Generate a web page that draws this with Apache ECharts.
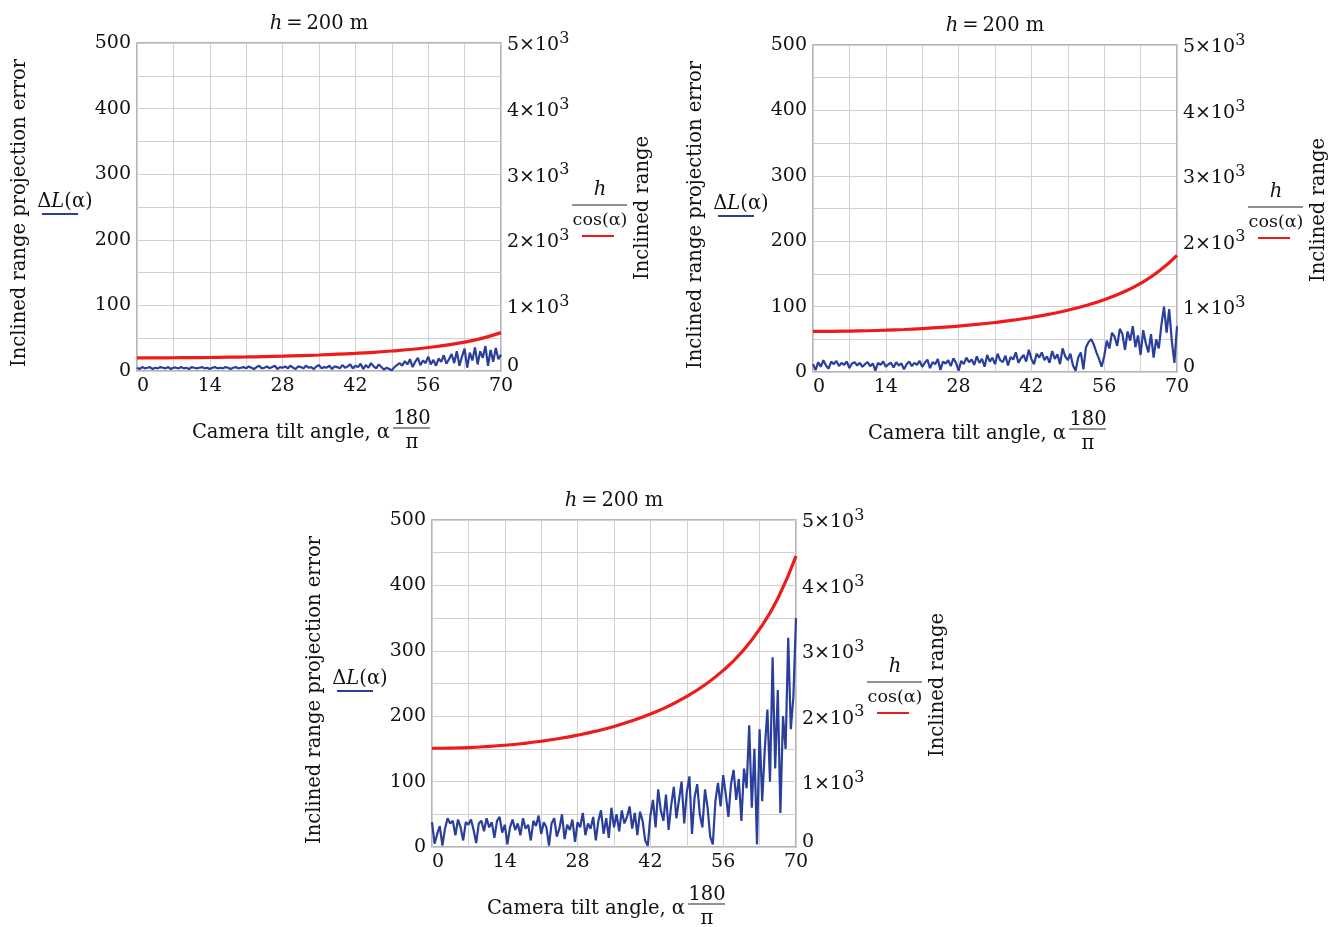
<!DOCTYPE html>
<html><head><meta charset="utf-8">
<script src="https://cdn.jsdelivr.net/npm/echarts@6/dist/echarts.min.js"></script>
<style>html,body{margin:0;padding:0;background:#fff}#c{width:1329px;height:927px}</style>
</head><body><div id="c"></div>
<script>
// ---- data ----
const titles = ['h = 200 m', 'h = 200 m', 'h = 200 m'];
const xTickStep = 14;            // labelled ticks 0,14,...,70
const leftMax = 500, rightMax = 5000;
// red curve h/cos(alpha), right axis units, sampled every 3.5 deg
const redAngles = [0,3.5,7,10.5,14,17.5,21,24.5,28,31.5,35,38.5,42,45.5,49,52.5,56,59.5,63,66.5,70];
const red1 = [200,200,202,203,206,210,214,220,226,235,244,256,269,285,305,328,358,394,440,501,585];
const red2 = [620,621,625,631,639,650,664,681,702,727,757,792,834,884,945,1018,1105,1215,1355,1540,1785];
const red3 = [1510,1513,1521,1536,1556,1583,1617,1659,1710,1771,1843,1930,2032,2154,2302,2480,2700,2975,3330,3800,4450];
// blue curve ΔL(alpha), left axis units, sampled every 0.5 deg from 0 to 70
const blueStep = 0.5;
const blue1 = [5,3,6,4,5,6,3,5,4,6,5,4,6,3,5,5,4,6,4,5,3,6,5,4,5,6,4,5,3,5,6,4,5,4,6,5,3,5,6,4,5,
  6,4,7,5,3,6,8,4,5,7,4,6,8,3,6,5,7,4,8,5,3,7,6,4,8,5,6,3,7,9,4,6,5,8,3,7,6,4,9,5,
  7,10,4,8,6,11,3,9,5,12,7,4,10,6,2,5,3,1,6,9,
  12,8,15,10,18,6,14,20,9,16,12,22,10,17,8,19,14,24,11,18,
  26,12,30,8,22,34,5,28,16,36,10,30,20,38,8,32,14,35,18,25];
const blue2 = [12,3,15,8,18,10,5,16,12,17,9,14,11,16,6,13,15,10,14,8,12,
  15,9,13,2,14,11,16,8,12,14,7,15,10,13,4,12,16,9,14,11,
  17,8,14,19,6,15,12,20,3,16,13,18,9,21,14,2,17,12,22,15,
  19,11,24,14,20,8,26,16,22,12,28,18,15,25,10,23,19,30,14,21,
  26,16,34,20,12,28,22,30,18,24,14,32,20,27,12,36,24,18,28,10,
  2,22,30,4,38,46,50,42,30,20,8,24,48,36,60,54,40,66,58,34,
  62,48,70,38,56,26,64,44,30,58,22,50,36,72,100,60,96,48,14,70];
const blue3 = [38,5,20,32,2,28,44,36,40,18,42,30,10,38,34,42,26,6,36,40,24,
  44,30,38,14,40,46,22,34,4,30,42,26,36,18,44,28,34,10,40,32,
  48,20,38,30,2,36,44,16,28,50,12,34,26,42,8,38,30,52,18,36,
  28,46,10,40,56,20,44,14,60,30,50,24,56,36,46,62,28,52,18,54,
  40,10,2,48,72,30,88,56,40,80,26,64,92,44,72,100,36,84,108,20,
  76,96,50,30,88,60,16,4,70,98,62,110,80,46,96,118,72,104,40,120,
  90,186,60,150,4,180,70,150,210,100,290,120,240,52,200,150,320,180,230,350];
const blueSets = [blue1, blue2, blue3];
const redSets = [red1, red2, red3];

// ---- layout ----
const panels = [
  {left:137, top:43, w:364, h:328},
  {left:813, top:45, w:364, h:327},
  {left:432, top:520, w:364, h:327}
];
const FONT = 'DejaVu Serif';
const BLUE = '#2a3f9c', RED = '#ee1b1b';
const TS = 19;   // tick font size
const NS = 19.5; // name font size

const grid = [], xAxis = [], yAxis = [], series = [], graphic = [];
panels.forEach((p, i) => {
  grid.push({left:p.left, top:p.top, width:p.w, height:p.h, show:true,
    borderColor:'#9c9c9c', borderWidth:1.5, backgroundColor:'#fff', containLabel:false});
  xAxis.push({type:'value', gridIndex:i, min:0, max:70, interval:7,
    axisLine:{show:false}, axisTick:{show:false},
    splitLine:{show:true, lineStyle:{color:'#d0d0d0', width:1}},
    axisLabel:{fontFamily:FONT, fontSize:TS, color:'#111', margin:6, alignMinLabel:'left',
      formatter: v => (v % xTickStep === 0 ? String(v) : '')}});
  yAxis.push({type:'value', gridIndex:i, min:0, max:leftMax, interval:50, position:'left',
    axisLine:{show:false}, axisTick:{show:false},
    splitLine:{show:true, lineStyle:{color:'#d0d0d0', width:1}},
    axisLabel:{fontFamily:FONT, fontSize:TS, color:'#111', margin:6,
      formatter: v => (v % 100 === 0 ? String(v) : '')}});
  yAxis.push({type:'value', gridIndex:i, min:0, max:rightMax, interval:500, position:'right',
    axisLine:{show:false}, axisTick:{show:false}, splitLine:{show:false},
    axisLabel:{margin:6, color:'#111',
      formatter: v => (v === 0 ? '{z|0}' : (v % 1000 === 0 ? '{b|' + (v/1000) + '×10}{s|3}' : '')),
      rich:{ b:{fontFamily:FONT, fontSize:TS, color:'#111', lineHeight:24, verticalAlign:'bottom'},
             s:{fontFamily:FONT, fontSize:16, color:'#111', lineHeight:24, verticalAlign:'top'},
             z:{fontFamily:FONT, fontSize:TS, color:'#111', padding:[0,0,10,0]} }}});
  series.push({type:'line', xAxisIndex:i, yAxisIndex:2*i, showSymbol:false, symbol:'none',
    lineStyle:{color:BLUE, width:2.2}, data: blueSets[i].map((v,k)=>[k*blueStep, v]), z:3});
  series.push({type:'line', xAxisIndex:i, yAxisIndex:2*i+1, showSymbol:false, symbol:'none', smooth:true,
    lineStyle:{color:RED, width:3.2}, data: redAngles.map((a,k)=>[a, redSets[i][k]]), z:4});

  const L = p.left, T = p.top, R = p.left + p.w, B = p.top + p.h;
  const txt = (text, x, y, opts={}) => graphic.push(Object.assign({type:'text', x, y, silent:true,
    style:{text, font: (opts.italic?'italic ':'') + (opts.size||NS) + 'px "' + FONT + '"', fill:'#111',
      textAlign: opts.align||'center', textVerticalAlign:'middle'}}, opts.rot ? {rotation:Math.PI/2} : {}));
  const ln = (x1,y1,x2,y2,color,w) => graphic.push({type:'line', silent:true,
    shape:{x1,y1,x2,y2}, style:{stroke:color, lineWidth:w}});
  // title
  graphic.push({type:'text', x:L+182, y:T-19, silent:true, style:{
    text:'{i|h}{n|\u2009=\u2009200 m}', textAlign:'center', textVerticalAlign:'middle',
    rich:{i:{fontFamily:FONT, fontStyle:'italic', fontSize:NS, fill:'#111'}, n:{fontFamily:FONT, fontSize:NS, fill:'#111'}}}});
  // left axis name + legend
  txt('Inclined range projection error', L-117, T+170, {rot:true});
  graphic.push({type:'text', x:L-72, y:T+159, silent:true, style:{
    text:'{n|Δ}{i|L}{n|(α)}', textAlign:'center', textVerticalAlign:'middle',
    rich:{i:{fontFamily:FONT, fontStyle:'italic', fontSize:NS, fill:'#111'}, n:{fontFamily:FONT, fontSize:NS, fill:'#111'}}}});
  ln(L-95, T+171, L-59, T+171, BLUE, 2);
  // right axis name + legend
  txt('h', R+99, T+147, {italic:true});
  ln(R+71, T+162, R+126, T+162, '#222', 1);
  txt('cos(α)', R+99, T+177, {size:17.5});
  ln(R+81, T+193, R+113, T+193, RED, 2);
  txt('Inclined range', R+142, T+165, {rot:true});
  // x axis name
  txt('Camera tilt angle, α', L+253, B+62, {align:'right'});
  txt('180', L+275, B+48);
  ln(L+256, B+57, L+293, B+57, '#222', 1);
  txt('π', L+275, B+72);
});

const chart = echarts.init(document.getElementById('c'), null, {renderer:'canvas'});
chart.setOption({animation:false, backgroundColor:'#fff', grid, xAxis, yAxis, series, graphic});
</script>
</body></html>
